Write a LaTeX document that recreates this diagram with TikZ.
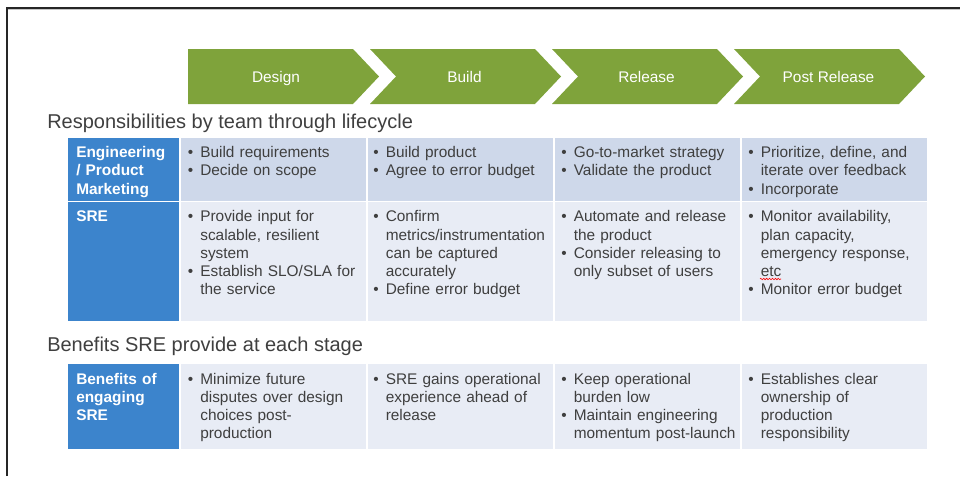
\documentclass[tikz,border=0pt]{standalone}
\usepackage{fontspec}
\setmainfont{Liberation Sans}
\usetikzlibrary{decorations.pathmorphing}
\definecolor{chevgreen}{HTML}{7FA33B}
\definecolor{hdrblue}{HTML}{3C84CC}
\definecolor{rowone}{HTML}{CED8EA}
\definecolor{rowtwo}{HTML}{E8ECF5}
\definecolor{txtgray}{HTML}{3F3F3F}
\definecolor{framegray}{HTML}{262626}
\newcommand\bodyfont{\fontsize{11.55pt}{13.65pt}\selectfont}
\newcommand\headfont{\fontsize{15pt}{18pt}\selectfont}
\newcommand\fl{\rule{0pt}{10pt}}
\newcommand\itm[1]{\noindent\hangindent=9.4pt\hangafter=1\fl\makebox[9.4pt][l]{\textbullet}#1\par}
\tikzset{
  chev/.style={fill=chevgreen, draw=none},
  chevtxt/.style={text=white, font=\bodyfont, anchor=base, inner sep=0pt},
  celltxt/.style={anchor=north west, inner sep=0pt, text width=150pt, align=left, font=\bodyfont, text=txtgray},
  hdrtxt/.style={celltxt, font=\bodyfont\bfseries, text=white},
  heading/.style={anchor=base west, inner sep=0pt, font=\headfont, text=txtgray},
  sep/.style={draw=white, line width=1.1pt},
  squiggle/.style={draw=red, line width=0.45pt, decorate, decoration={zigzag, amplitude=0.55pt, segment length=2.2pt}}
}
\begin{document}
\begin{tikzpicture}[x=0.75pt,y=-0.75pt]
\useasboundingbox (0,0) rectangle (960,476);
% frame
\draw[framegray, line width=0.9pt] (7,476) -- (7,8) -- (960,8);
\draw[gray!45, line width=0.6pt] (7.8,9.4) -- (960,9.4);
% chevrons
\path[chev] (188,49) -- (353,49) -- (379,76.5) -- (353,104) -- (188,104) -- cycle;
\foreach \L in {370,552,734}{
  \path[chev] (\L,49) -- ({\L+165},49) -- ({\L+191},76.5) -- ({\L+165},104) -- (\L,104) -- ({\L+26},76.5) -- cycle;
}
\node[chevtxt] (design) at (276,82) {Design};
\node[chevtxt] (build) at (464.5,82) {Build};
\node[chevtxt] (release) at (646.5,82) {Release};
\node[chevtxt] (post) at (828.5,82) {Post Release};
% headings
\node[heading] (h1) at (47,128.3) {Responsibilities by team through lifecycle};
\node[heading] (h2) at (47,351) {Benefits SRE provide at each stage};
% table 1
\fill[hdrblue] (68,138) rectangle (180,321);
\fill[rowone] (180,138) rectangle (927,201.5);
\fill[rowtwo] (180,201.5) rectangle (927,321);
\draw[sep] (68,201.5) -- (927,201.5);
\foreach \X in {180,367,554,741}{ \draw[sep] (\X,138) -- (\X,321); }
% table 2
\fill[hdrblue] (68,364) rectangle (180,449);
\fill[rowtwo] (180,364) rectangle (927,449);
\foreach \X in {180,367,554,741}{ \draw[sep] (\X,364) -- (\X,449); }
% row 1 text
\node[hdrtxt] (r1h) at (76,144) {\fl Engineering\newline / Product\newline Marketing};
\node[celltxt] (r1a) at (187.5,144) {\itm{Build requirements}\itm{Decide on scope}};
\node[celltxt] (r1b) at (373,144) {\itm{Build product}\itm{Agree to error budget}};
\node[celltxt] (r1c) at (561,144) {\itm{Go-to-market strategy}\itm{Validate the product}};
\node[celltxt] (r1d) at (748,144) {\itm{Prioritize, define, and\newline iterate over feedback}\itm{Incorporate}};
% row 2 text
\node[hdrtxt] (r2h) at (76,208.2) {\fl SRE};
\node[celltxt] (r2a) at (187.5,208.2) {\itm{Provide input for\newline scalable, resilient\newline system}\itm{Establish SLO/SLA for\newline the service}};
\node[celltxt] (r2b) at (373,208.2) {\itm{Confirm\newline metrics/instrumentation\newline can be captured\newline accurately}\itm{Define error budget}};
\node[celltxt] (r2c) at (561,208.2) {\itm{Automate and release\newline the product}\itm{Consider releasing to\newline only subset of users}};
\node[celltxt] (r2d) at (748,208.2) {\itm{Monitor availability,\newline plan capacity,\newline emergency response,\newline etc}\itm{Monitor error budget}};
\path[squiggle] (760,279) -- (781,279);
% table 2 text
\node[hdrtxt] (r3h) at (76,370.4) {\fl Benefits of\newline engaging\newline SRE};
\node[celltxt] (r3a) at (187.5,370.4) {\itm{Minimize future\newline disputes over design\newline choices post-\newline production}};
\node[celltxt] (r3b) at (373,370.4) {\itm{SRE gains operational\newline experience ahead of\newline release}};
\node[celltxt] (r3c) at (561,370.4) {\itm{Keep operational\newline burden low}\itm{Maintain engineering\newline momentum post-launch}};
\node[celltxt] (r3d) at (748,370.4) {\itm{Establishes clear\newline ownership of\newline production\newline responsibility}};
\end{tikzpicture}
\end{document}
